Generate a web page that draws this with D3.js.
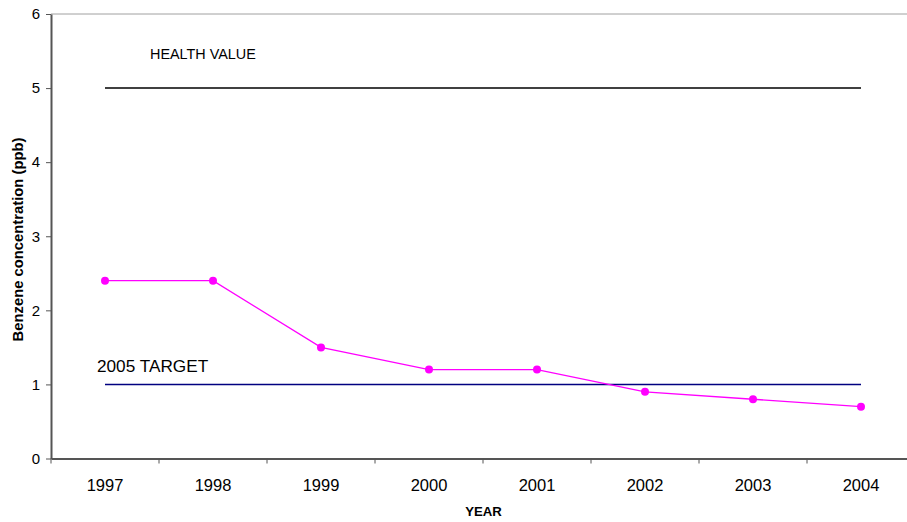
<!DOCTYPE html>
<html>
<head>
<meta charset="utf-8">
<script src="https://cdn.jsdelivr.net/npm/d3@7"></script>
<style>
  html, body { margin: 0; padding: 0; background: #fff; }
  svg { display: block; font-family: "Liberation Sans", Arial, sans-serif; }
</style>
</head>
<body>
<svg id="chart" width="907" height="522"></svg>
<script>
// Annual mean benzene concentration against reference levels
const years = ["1997", "1998", "1999", "2000", "2001", "2002", "2003", "2004"];
const benzene = [2.4, 2.4, 1.5, 1.2, 1.2, 0.9, 0.8, 0.7];
const healthValue = [5, 5, 5, 5, 5, 5, 5, 5];
const target2005 = [1, 1, 1, 1, 1, 1, 1, 1];
const yTicks = [0, 1, 2, 3, 4, 5, 6];

const svg = d3.select("#chart");
const plotLeft = 51, plotRight = 915, plotTop = 14, plotBottom = 458.5;

const x = d3.scaleBand().domain(years).range([plotLeft, plotRight]);
const y = d3.scaleLinear().domain([0, 6]).range([plotBottom, plotTop]);
const cx = d => x(d) + x.bandwidth() / 2;

// top border of the plot area
svg.append("line")
  .attr("x1", plotLeft).attr("x2", plotRight)
  .attr("y1", y(6)).attr("y2", y(6))
  .attr("stroke", "#a0a0a0").attr("stroke-width", 1);

// y axis
const yAxis = svg.append("g")
  .attr("transform", `translate(${plotLeft},0)`)
  .call(d3.axisLeft(y).tickValues(yTicks).tickSize(5).tickSizeOuter(0).tickFormat(d3.format("d")));
yAxis.select(".domain").attr("stroke", "#555").attr("stroke-width", 2);
yAxis.selectAll(".tick line").attr("stroke", "#555");
yAxis.selectAll(".tick text").attr("font-size", 15).attr("fill", "#000").attr("x", -11)
  .attr("font-family", "Liberation Sans, Arial, sans-serif");

// x axis: ticks sit between categories
const xAxis = svg.append("g")
  .attr("transform", `translate(0,${plotBottom})`)
  .call(d3.axisBottom(x).tickSize(0).tickSizeOuter(0));
xAxis.select(".domain").attr("stroke", "#555").attr("stroke-width", 2);
xAxis.selectAll(".tick text")
  .attr("font-size", 16.5).attr("fill", "#000")
  .attr("y", 32.5).attr("dy", null)
  .attr("font-family", "Liberation Sans, Arial, sans-serif");
xAxis.selectAll(".sep")
  .data(years)
  .enter().append("line")
  .attr("class", "sep")
  .attr("x1", d => x(d)).attr("x2", d => x(d))
  .attr("y1", 0).attr("y2", 5)
  .attr("stroke", "#555").attr("stroke-width", 1);

// reference lines
const line = d3.line().x((d, i) => cx(years[i])).y(d => y(d));

svg.append("path").datum(healthValue)
  .attr("d", line).attr("fill", "none")
  .attr("stroke", "#000").attr("stroke-width", 1.5);

svg.append("path").datum(target2005)
  .attr("d", line).attr("fill", "none")
  .attr("stroke", "#000080").attr("stroke-width", 1.5);

// measured series
svg.append("path").datum(benzene)
  .attr("d", line).attr("fill", "none")
  .attr("stroke", "#ff00ff").attr("stroke-width", 1.3);

svg.selectAll(".pt")
  .data(benzene)
  .enter().append("circle")
  .attr("class", "pt")
  .attr("cx", (d, i) => cx(years[i]))
  .attr("cy", d => y(d))
  .attr("r", 4)
  .attr("fill", "#ff00ff");

// line labels
svg.append("text")
  .attr("x", 150).attr("y", 59.3)
  .attr("font-size", 14.4).attr("fill", "#000")
  .text("HEALTH VALUE");

svg.append("text")
  .attr("x", 97).attr("y", 371.5)
  .attr("font-size", 17.2).attr("fill", "#000")
  .text("2005 TARGET");

// axis titles
svg.append("text")
  .attr("x", 483.5).attr("y", 516)
  .attr("text-anchor", "middle")
  .attr("font-size", 13.2).attr("font-weight", "bold")
  .text("YEAR");

svg.append("text")
  .attr("transform", `translate(23,239.5) rotate(-90)`)
  .attr("text-anchor", "middle")
  .attr("font-size", 14.8).attr("font-weight", "bold")
  .text("Benzene concentration (ppb)");
</script>
</body>
</html>
